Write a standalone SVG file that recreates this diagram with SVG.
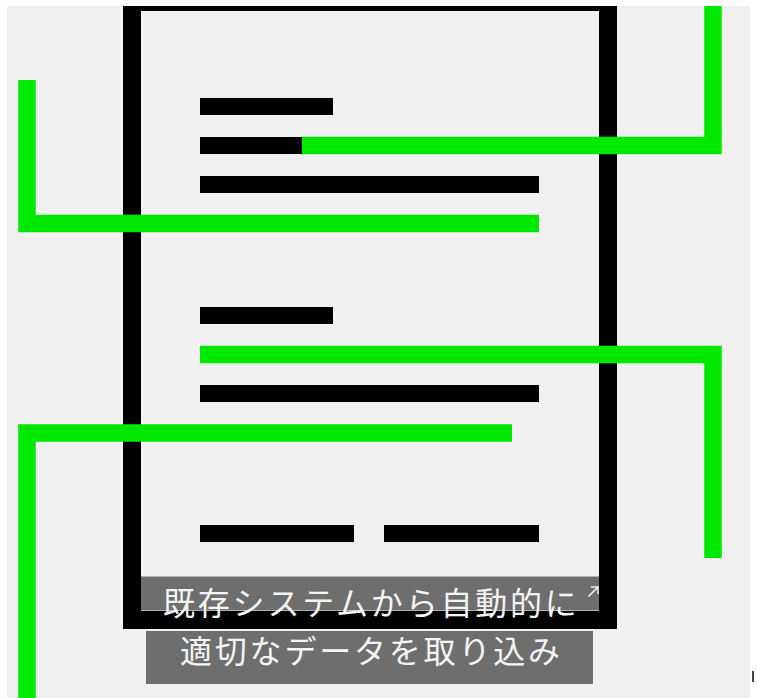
<svg xmlns="http://www.w3.org/2000/svg" width="757" height="698" viewBox="0 0 757 698">
<style>
.bg{fill:#f0f0f0}
.blk{fill:#000}
.g{fill:none;stroke:#00e800;stroke-width:17.5;stroke-linejoin:miter;stroke-linecap:butt}
.cap{fill:#6e6e6e}
.t{font-family:"Noto Sans CJK JP","Noto Sans",sans-serif;font-size:32px;letter-spacing:2.8px;fill:#f4f4f4}
</style>
<rect x="0" y="0" width="757" height="698" fill="#fff"/>
<rect class="bg" x="7" y="6" width="743" height="692"/>
<g id="document">
<rect class="blk" x="123" y="6" width="494" height="5"/>
<rect class="blk" x="123" y="6" width="18" height="623"/>
<rect class="blk" x="599" y="6" width="18" height="623"/>
<rect class="blk" x="123" y="611" width="494" height="18"/>
</g>
<g id="text-lines">
<rect class="blk" x="200" y="98" width="133" height="17"/>
<rect class="blk" x="200" y="137" width="102" height="17"/>
<rect class="blk" x="200" y="176" width="339" height="17"/>
<rect class="blk" x="200" y="307" width="133" height="17"/>
<rect class="blk" x="200" y="385" width="339" height="17"/>
<rect class="blk" x="200" y="525" width="154" height="17"/>
<rect class="blk" x="384" y="525" width="155" height="17"/>
</g>
<g id="connectors">
<path class="g" d="M302,145.5 H713 V6"/>
<path class="g" d="M27,80 V223.5 H539"/>
<path class="g" d="M200,354.5 H713 V558"/>
<path class="g" d="M512,433 H27 V698"/>
</g>
<g id="caption">
<rect class="cap" x="141" y="576.5" width="458" height="34"/>
<rect class="cap" x="146" y="631" width="447" height="53"/>
<text class="t" x="163" y="614.5">既存システムから自動的に</text>
<text class="t" x="180" y="662.5">適切なデータを取り込み</text>
<path d="M588.5,596.5 L597,588 M591,587 H598 V594" fill="none" stroke="#f4f4f4" stroke-width="1.5"/>
</g>
<rect x="752" y="671" width="2" height="11" fill="#444"/>
</svg>
